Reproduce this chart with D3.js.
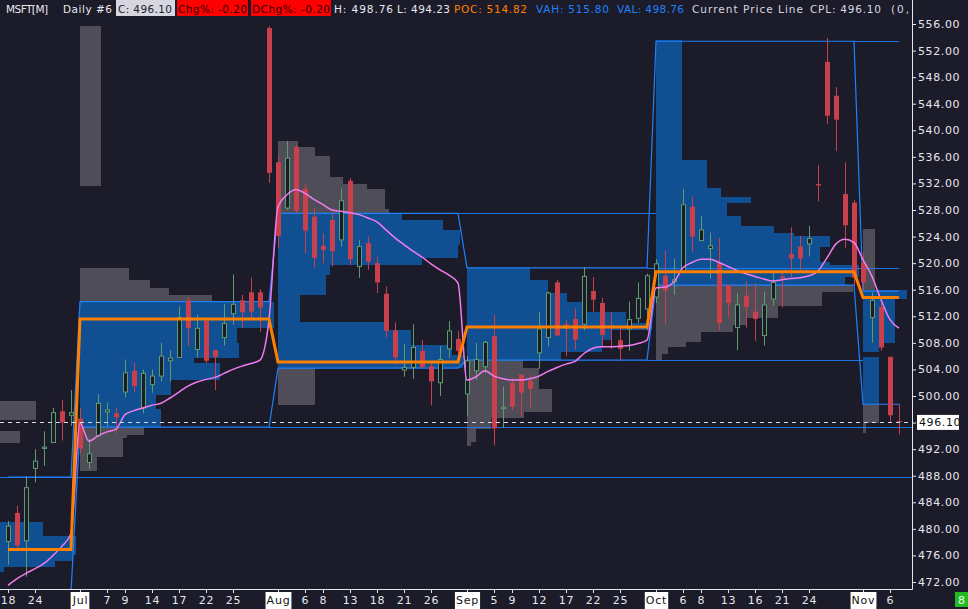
<!DOCTYPE html>
<html><head><meta charset="utf-8">
<script src="https://cdn.jsdelivr.net/npm/d3@7/dist/d3.min.js"></script>
<style>
html,body{margin:0;padding:0;background:#1c1b29;}
svg{display:block;}
text{font-family:"DejaVu Sans",sans-serif;}
</style></head><body>
<svg id="chart" width="968" height="609"></svg>
<script>
// ---------------- DATA ----------------
const dates = ["2025-06-18","2025-06-20","2025-06-23","2025-06-24","2025-06-25","2025-06-26","2025-06-27","2025-06-30",
"2025-07-01","2025-07-02","2025-07-03","2025-07-07","2025-07-08","2025-07-09","2025-07-10","2025-07-11","2025-07-14","2025-07-15","2025-07-16","2025-07-17","2025-07-18","2025-07-21","2025-07-22","2025-07-23","2025-07-24","2025-07-25","2025-07-28","2025-07-29","2025-07-30","2025-07-31",
"2025-08-01","2025-08-04","2025-08-05","2025-08-06","2025-08-07","2025-08-08","2025-08-11","2025-08-12","2025-08-13","2025-08-14","2025-08-15","2025-08-18","2025-08-19","2025-08-20","2025-08-21","2025-08-22","2025-08-25","2025-08-26","2025-08-27","2025-08-28","2025-08-29",
"2025-09-02","2025-09-03","2025-09-04","2025-09-05","2025-09-08","2025-09-09","2025-09-10","2025-09-11","2025-09-12","2025-09-15","2025-09-16","2025-09-17","2025-09-18","2025-09-19","2025-09-22","2025-09-23","2025-09-24","2025-09-25","2025-09-26","2025-09-29","2025-09-30",
"2025-10-01","2025-10-02","2025-10-03","2025-10-06","2025-10-07","2025-10-08","2025-10-09","2025-10-10","2025-10-13","2025-10-14","2025-10-15","2025-10-16","2025-10-17","2025-10-20","2025-10-21","2025-10-22","2025-10-23","2025-10-24","2025-10-27","2025-10-28","2025-10-29","2025-10-30","2025-10-31",
"2025-11-03","2025-11-04","2025-11-05","2025-11-06","2025-11-07"];

const open  = [478.1,482.4,478.2,489.1,492.1,493.0,497.7,497.1, 496.6,490.0,494.0,497.6,497.4,500.6,503.8,498.2,501.7,503.0,505.3,505.8,514.4,507.0,511.3,506.9,508.8,512.4,514.4,515.6,515.6,555.4,
 535.2,528.3,537.5,531.2,527.0,522.6,526.5,523.5,532.4,519.5,523.0,520.0,515.4,509.9,503.9,504.3,506.8,504.5,502.0,507.1,508.6,
 500.3,503.8,504.4,509.0,498.1,502.0,503.2,502.3,506.5,508.8,517.1,510.8,511.6,510.8,515.8,514.0,510.6,508.4,510.1,511.7,513.1,
 514.9,518.1,517.2,518.7,528.5,523.4,522.2,520.0,516.7,510.3,515.1,512.7,509.1,514.6,518.0,521.4,522.5,522.9,531.9,550.3,545.2,530.4,529.1,
 520.1,511.8,513.4,505.9,496.25];
const high  = [481.2,483.5,487.9,492.0,494.7,498.2,499.4,500.9, 498.2,493.6,500.3,499.0,498.3,505.5,505.0,504.0,504.0,508.0,506.9,513.5,514.9,512.2,511.9,507.0,513.8,518.3,515.2,517.8,516.1,555.7,
 536.2,538.4,537.8,531.9,528.3,524.5,527.7,531.2,532.8,523.5,524.0,521.0,516.5,511.1,507.8,510.8,508.4,505.2,507.5,511.3,509.8,
 506.0,508.0,508.3,512.2,501.4,502.6,503.3,503.2,512.6,515.7,517.5,511.4,513.2,519.4,517.9,514.8,512.6,510.3,514.2,517.1,518.4,
 520.6,521.9,520.7,531.2,530.0,527.1,524.6,523.8,516.7,515.5,517.3,517.0,515.7,518.8,518.8,525.4,524.1,525.6,534.8,553.9,546.5,535.2,529.5,
 521.5,515.6,514.0,505.9,498.76];
const low   = [474.6,477.1,472.8,487.0,489.5,493.0,493.3,495.5, 491.3,489.0,493.8,495.4,494.4,499.8,500.5,497.4,500.5,502.2,502.2,505.8,507.5,505.8,505.0,500.9,507.6,510.7,510.3,511.4,509.7,532.1,
 522.3,528.0,527.5,521.5,519.3,520.0,519.5,522.5,519.7,517.8,519.0,515.5,508.8,504.7,502.9,502.6,504.3,498.6,500.0,505.7,504.8,
 497.0,502.4,503.4,492.6,495.2,497.9,496.9,498.1,504.1,507.5,509.0,506.0,507.0,509.9,512.7,507.4,507.1,505.3,506.8,511.0,509.9,
 514.0,510.8,515.2,518.7,521.7,523.4,517.7,509.9,511.9,506.9,510.3,508.3,507.6,513.6,513.3,517.9,518.8,521.0,529.3,541.0,536.9,522.3,516.6,
 516.0,508.0,506.8,496.0,494.23];
const close = [480.4,477.5,486.2,490.2,492.3,497.5,496.0,497.5, 492.1,491.3,498.9,497.9,496.8,503.5,501.5,503.4,503.0,506.0,505.7,511.8,510.2,510.2,505.3,505.9,510.9,513.8,512.6,512.7,513.3,533.6,
 524.1,535.8,527.9,524.9,520.8,522.0,521.8,529.4,520.6,522.5,520.2,517.1,509.8,505.8,504.3,507.3,504.3,502.2,505.5,509.8,506.8,
 505.3,505.5,508.1,495.1,498.3,498.4,500.5,501.1,510.1,515.5,509.1,510.1,508.5,518.0,514.5,509.2,510.2,507.1,511.5,514.7,518.1,
 519.9,515.9,517.5,528.8,524.0,525.0,522.6,511.0,514.0,513.7,513.4,511.6,513.7,517.1,517.7,520.7,520.7,523.7,531.7,542.2,541.6,525.7,517.8,
 517.1,514.4,507.3,497.1,496.10];
// monthly anchored VWAP (pink line)
const vwap  = [471.5,472.5,473.3,474.0,474.8,476.0,477.4,479.3, 495.9,493.2,494.0,494.6,495.0,497.2,497.8,498.2,498.6,498.9,499.7,500.6,501.5,502.1,502.5,502.8,503.4,504.0,504.5,504.9,505.4,511.5,
 528.5,530.3,531.1,530.5,529.6,528.8,528.0,527.8,527.6,527.3,526.8,526.2,525.0,523.8,522.8,521.8,520.9,519.9,519.0,518.2,517.0,
 502.4,502.9,503.8,503.0,502.6,502.4,502.4,502.6,503.0,503.7,504.3,504.8,505.2,506.4,507.2,507.4,507.4,507.5,507.6,507.9,508.4,
 516.3,516.4,517.2,519.3,520.1,520.6,520.6,520.1,519.5,518.9,518.4,518.0,517.6,517.3,517.5,517.7,517.8,518.1,518.8,520.8,522.9,523.6,523.1,
 520.5,518.0,514.5,511.5,510.2];

// monthly volume profile summary
const months        = ["2025-06","2025-07","2025-08","2025-09","2025-10","2025-11"];
const monthBarCount = [20,22,21,21,23,5];
const monthPOC      = [476.9,511.6,505.1,510.4,518.7,514.82];
const monthVAH      = [487.8,514.2,527.5,519.3,553.4,515.80];
const monthVAL      = [470.5,495.3,504.2,505.4,516.7,498.76];

// profile bins: [priceLow, priceHigh, relative volume % of POC]
const profJun = [[470.8,473.5,40],[473.5,474.2,59],[474.2,475.2,88],[475.2,476.0,98],[476.0,479.0,100],[479.0,481.0,81],[481.0,484.0,45],[484.0,487.8,40],[487.8,493.0,35],[493.0,494.8,68],[494.8,496.4,50],[496.4,499.3,77],[499.3,501.0,30]];
const profJul = [[488.7,490.8,9],[490.8,493.7,22],[493.7,494.1,24],[494.1,495.3,33],[495.3,498.0,42],[498.0,500.2,39],[500.2,502.4,47],[502.4,505.0,72],[505.0,505.7,59],[505.7,508.0,82],[508.0,510.2,81],[510.2,514.2,100],[514.2,515.2,68],[515.2,516.3,46],[516.3,517.5,36],[517.5,519.3,25],[531.6,555.7,11]];
const profAug = [[498.6,504.2,20],[504.2,506.2,100],[506.2,507.7,94],[507.7,509.9,72],[509.9,511.1,58],[511.1,515.2,12],[515.2,518.2,26],[518.2,519.7,28],[519.7,520.8,78],[520.8,522.7,97],[522.7,525.0,98],[525.0,526.5,89],[526.5,527.5,67],[527.5,528.1,60],[528.1,531.2,58],[531.2,531.9,48],[531.9,533.0,35],[533.0,536.1,28],[536.1,537.5,20],[537.5,538.4,11]];
const profSep = [[492.4,493.1,2],[493.1,495.1,5],[495.1,496.7,13],[496.7,497.6,31],[497.6,501.1,46],[501.1,504.2,39],[504.2,505.4,30],[505.4,506.6,51],[506.6,508.4,73],[508.4,509.9,78],[509.9,511.0,100],[511.0,512.6,86],[512.6,514.2,62],[514.2,515.5,54],[515.5,517.5,44],[517.5,519.3,34]];
const profOct = [[505.4,506.3,3],[506.3,507.4,6],[507.4,508.2,15],[508.2,509.7,22],[509.7,510.7,38],[510.7,511.8,45],[511.8,513.5,60],[513.5,515.6,82],[515.6,516.7,97],[516.7,517.9,93],[517.9,519.7,100],[519.7,520.2,86],[520.2,522.5,81],[522.5,524.1,86],[524.1,524.5,68],[524.5,525.6,58],[525.6,527.1,42],[527.1,529.0,35],[529.0,530.0,47],[530.0,531.3,32],[531.3,535.5,25],[535.5,553.6,13]];
const profNov = [[494.4,495.9,7],[495.9,498.8,37],[498.8,505.9,37],[506.6,508.0,37],[508.0,514.6,73],[514.6,516.0,100],[516.0,525.1,27]];

// naked VA levels carried forward: level, from date, to date ("end" = right edge)
const extLevel = [487.8, 495.3, 527.5, 519.3, 505.4, 553.4];
const extFrom  = ["2025-06-18","2025-07-31","2025-08-29","2025-09-30","2025-09-30","2025-10-31"];
const extTo    = ["end","end","2025-10-01","2025-11-07","2025-11-03","2025-11-07"];

const xTickDates = ["2025-06-18","2025-06-24","2025-07-01","2025-07-07","2025-07-09","2025-07-14","2025-07-17","2025-07-22","2025-07-25",
 "2025-08-01","2025-08-06","2025-08-08","2025-08-13","2025-08-18","2025-08-21","2025-08-26",
 "2025-09-02","2025-09-05","2025-09-09","2025-09-12","2025-09-17","2025-09-22","2025-09-25",
 "2025-10-01","2025-10-06","2025-10-08","2025-10-13","2025-10-16","2025-10-21","2025-10-24",
 "2025-11-03","2025-11-06"];
const monthAbbr = ["Jan","Feb","Mar","Apr","May","Jun","Jul","Aug","Sep","Oct","Nov","Dec"];
const yTickValues = d3.range(472, 557, 4);
const currentPrice = 496.10;

// ---------------- CHART ----------------
const C = {bg:"#1c1b29", up:"#5f9b6e", down:"#c8404b", vaBlue:"#104f92", outGray:"#4f4e58",
           line:"#1e82ff", poc:"#ff8000", vwap:"#f07cf0", axis:"#e6e6ee"};
const plotR = 912, plotB = 589;
const svg = d3.select("#chart");
svg.append("rect").attr("width",968).attr("height",609).attr("fill",C.bg);
svg.append("defs").append("clipPath").attr("id","clip").append("rect").attr("x",0).attr("y",0).attr("width",plotR).attr("height",plotB);

const x = d3.scaleLinear().domain([0, dates.length-1]).range([8, 8 + 9*(dates.length-1)]);
const y = d3.scaleLinear().domain([472, 556]).range([582, 24]);
const step = x(1) - x(0);
const idxOf = d => dates.indexOf(d);
const monthOf = i => i < 0 ? 0 : months.indexOf(dates[i].slice(0,7));

const plot = svg.append("g").attr("clip-path","url(#clip)");

const firstIdx = months.map((m,k) => {
  const j = dates.findIndex(d => d.startsWith(m));
  const inView = dates.filter(d => d.startsWith(m)).length;
  return j - (monthBarCount[k] - inView);
});

// --- volume profiles
const profiles = [profJun, profJul, profAug, profSep, profOct, profNov];
profiles.forEach((prof, k) => {
  const w = d3.scaleLinear().domain([0,100]).range([0, monthBarCount[k]*step*0.98]);
  const x0 = x(firstIdx[k]);
  plot.append("g").selectAll("rect").data(prof).join("rect")
    .attr("x", x0)
    .attr("y", d => y(d[1]))
    .attr("width", d => w(d[2]))
    .attr("height", d => Math.max(0.5, y(d[0]) - y(d[1])))
    .attr("fill", d => { const mid=(d[0]+d[1])/2; return (mid >= monthVAL[k]-0.05 && mid <= monthVAH[k]+0.05) ? C.vaBlue : C.outGray; })
    .attr("shape-rendering","crispEdges");
});

// --- extended (naked) value-area levels
extLevel.forEach((lv, k) => {
  const xa = k === 0 ? 0 : x(idxOf(extFrom[k]));
  const xb = extTo[k] === "end" ? plotR : x(idxOf(extTo[k]));
  plot.append("line").attr("x1", xa).attr("x2", xb).attr("y1", Math.round(y(lv))+0.5).attr("y2", Math.round(y(lv))+0.5)
    .attr("stroke", C.line).attr("stroke-width", 1).attr("opacity",0.85);
});

// --- developing VAH / VAL step lines
const seriesIdx = d3.range(0, dates.length);
const vaLine = vals => d3.line().x(i => x(i)).y(i => y(vals[monthOf(i)]));
plot.append("path").datum(seriesIdx).attr("d", vaLine(monthVAH)).attr("fill","none").attr("stroke",C.line).attr("stroke-width",1.2);
plot.append("path").datum(seriesIdx).attr("d", vaLine(monthVAL)).attr("fill","none").attr("stroke",C.line).attr("stroke-width",1.2);

// --- candles
const bars = dates.map((d,i) => ({i, o:open[i], h:high[i], l:low[i], c:close[i]}));
const cg = plot.append("g");
bars.forEach(b => {
  const cx = Math.round(x(b.i));
  const upc = b.c >= b.o;
  const col = upc ? C.up : C.down;
  const top = y(Math.max(b.o,b.c)), bot = y(Math.min(b.o,b.c));
  cg.append("line").attr("x1",cx+0.5).attr("x2",cx+0.5).attr("y1",y(b.h)).attr("y2",y(b.l)).attr("stroke",col).attr("stroke-width",1);
  if (upc) {
    cg.append("rect").attr("x",cx-1.5).attr("y",top).attr("width",4).attr("height",Math.max(1,bot-top))
      .attr("fill",C.bg).attr("stroke",col).attr("stroke-width",1);
  } else {
    cg.append("rect").attr("x",cx-2).attr("y",top).attr("width",5).attr("height",Math.max(1,bot-top)).attr("fill",col);
  }
});

// --- VWAP (pink)
plot.append("path").datum(d3.range(dates.length))
  .attr("d", d3.line().x(i=>x(i)).y(i=>y(vwap[i])).curve(d3.curveMonotoneX))
  .attr("fill","none").attr("stroke",C.vwap).attr("stroke-width",1.5);

// --- POC (orange)
plot.append("path").datum(seriesIdx).attr("d", vaLine(monthPOC))
  .attr("fill","none").attr("stroke",C.poc).attr("stroke-width",3);

// --- current price line
plot.append("line").attr("x1",0).attr("x2",plotR).attr("y1",Math.round(y(currentPrice))+0.5).attr("y2",Math.round(y(currentPrice))+0.5)
  .attr("stroke","#d8d8e2").attr("stroke-width",1).attr("stroke-dasharray","4,4");

// --- axes
const yAxis = d3.axisRight(y).tickValues(yTickValues).tickFormat(d3.format(".2f")).tickSize(4).tickPadding(2);
const gy = svg.append("g").attr("transform",`translate(${plotR},0)`).call(yAxis);
gy.select(".domain").remove();
gy.selectAll(".tick line").attr("stroke",C.axis);
gy.selectAll(".tick text").attr("fill",C.axis).style("font-family","DejaVu Sans").style("font-size","11px").style("letter-spacing","0.6px");

const xAxis = d3.axisBottom(x).tickValues(xTickDates.map(idxOf)).tickSize(4).tickPadding(3)
  .tickFormat(i => { const d = dates[i]; const prev = dates[i-1];
     return (prev && prev.slice(0,7) !== d.slice(0,7)) ? monthAbbr[+d.slice(5,7)-1] : String(+d.slice(8,10)); });
const gx = svg.append("g").attr("transform",`translate(0,${plotB})`).call(xAxis);
gx.select(".domain").remove();
gx.selectAll(".tick line").attr("stroke",C.axis);
gx.selectAll(".tick text").attr("fill",C.axis).style("font-family","DejaVu Sans").style("font-size","11px").style("letter-spacing","0.8px");
gx.selectAll(".tick").each(function(i){
  const t = d3.select(this).select("text");
  if (isNaN(+t.text())) {
    const bb = t.node().getBBox();
    d3.select(this).insert("rect","text").attr("x",bb.x-1).attr("y",3).attr("width",bb.width+2).attr("height",17).attr("fill","#ffffff");
    t.attr("fill","#111");
  }
});

// axis frame lines
svg.append("line").attr("x1",plotR+0.5).attr("x2",plotR+0.5).attr("y1",0).attr("y2",plotB+0.5).attr("stroke",C.axis).attr("stroke-width",1);
svg.append("line").attr("x1",0).attr("x2",plotR+0.5).attr("y1",plotB+0.5).attr("y2",plotB+0.5).attr("stroke",C.axis).attr("stroke-width",1);

// current price label
const cpY = y(currentPrice);
svg.append("rect").attr("x",917).attr("y",cpY-7).attr("width",42).attr("height",15).attr("fill","#ffffff");
svg.append("text").attr("x",919).attr("y",cpY+4.5).attr("fill","#111").style("font-size","11px").style("letter-spacing","0.6px").text(d3.format(".2f")(currentPrice));

// bottom-right badge
svg.append("rect").attr("x",955).attr("y",592).attr("width",13).attr("height",15).attr("fill","#22bb22");
svg.append("text").attr("x",961.5).attr("y",604).attr("text-anchor","middle").attr("fill","#e8ffe8").style("font-size","11px").text("8");

// --- header (each item fitted to its span)
const hdr = svg.append("g").style("font-size","10.5px");
function htext(x1, x2, txt, fill){
  return hdr.append("text").attr("x",x1).attr("y",12.5).attr("fill",fill)
    .attr("textLength", x2-x1).attr("lengthAdjust","spacing").text(txt);
}
htext(6,48,"MSFT[M]","#e8e8f0");
htext(63,112,"Daily #6","#e8e8f0");
hdr.append("rect").attr("x",116).attr("y",0).attr("width",59).attr("height",16).attr("fill","#d6d6e0");
htext(118,172,"C: "+d3.format(".2f")(close[close.length-1]),"#1c1b29");
hdr.append("rect").attr("x",177).attr("y",0).attr("width",71).attr("height",16).attr("fill","#ff0000");
htext(178,247,"Chg%: -0.20","#2a0000");
hdr.append("rect").attr("x",251).attr("y",0).attr("width",80).attr("height",16).attr("fill","#ff0000");
htext(252,330,"DChg%: -0.20","#2a0000");
htext(334,393,"H: "+high[high.length-1].toFixed(2),"#e8e8f0");
htext(397,450,"L: "+low[low.length-1].toFixed(2),"#e8e8f0");
htext(454,527,"POC: "+monthPOC[5].toFixed(2),"#ff8000");
htext(536,609,"VAH: "+monthVAH[5].toFixed(2),"#1e82ff");
htext(617,684,"VAL: "+monthVAL[5].toFixed(2),"#1e82ff");
htext(692,803,"Current Price Line","#d8d8e2");
htext(810,881,"CPL: "+currentPrice.toFixed(2),"#d8d8e2");
htext(891,909,"(0,","#d8d8e2");
</script>
</body></html>
